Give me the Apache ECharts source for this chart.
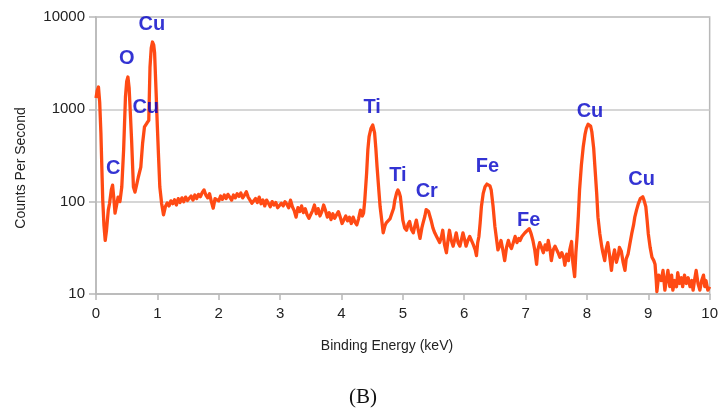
<!DOCTYPE html>
<html>
<head>
<meta charset="utf-8">
<script src="https://cdn.jsdelivr.net/npm/echarts@6/dist/echarts.min.js"></script>
<style>html,body{margin:0;padding:0;background:#fff}#c{width:721px;height:412px}</style>
</head>
<body>
<div id="c"></div>
<script>
// Energy (keV) and counts per second
const energy = [0,0.02,0.04,0.06,0.08,0.10,0.11,0.13,0.15,0.17,0.20,0.22,0.25,0.27,0.29,0.31,0.34,0.36,0.39,0.42,0.45,0.48,0.50,0.52,0.54,0.56,0.58,0.61,0.635,0.66,0.69,0.73,0.76,0.79,0.83,0.86,0.88,0.90,0.92,0.94,0.955,0.98,1.00,1.02,1.04,1.07,
1.10,1.13,1.16,1.19,1.22,1.25,1.28,1.31,1.34,1.37,1.40,1.43,1.46,1.49,1.52,1.55,1.58,1.61,1.64,1.67,1.70,1.73,1.76,1.79,1.82,1.85,1.88,1.91,1.94,1.97,
2.00,2.03,2.06,2.09,2.12,2.15,2.18,2.21,2.24,2.27,2.30,2.33,2.36,2.39,2.42,2.45,2.48,2.51,2.54,2.57,2.60,2.63,2.66,2.69,2.72,2.75,2.78,2.81,2.84,2.87,2.90,2.93,2.96,2.99,
3.02,3.05,3.08,3.11,3.14,3.17,3.20,3.23,3.26,3.29,3.32,3.35,3.38,3.41,3.44,3.47,3.50,3.53,3.56,3.59,3.62,3.65,3.68,3.71,3.74,3.77,3.80,3.83,3.86,3.89,3.92,3.95,3.98,
4.01,4.04,4.07,4.10,4.13,4.16,4.19,4.22,4.25,4.28,4.31,4.34,4.36,4.38,4.41,4.43,4.45,4.48,4.51,4.54,4.56,4.58,4.61,4.63,4.66,4.68,4.71,4.73,4.76,4.79,4.82,4.85,4.87,4.90,4.92,4.94,4.96,4.98,
5.00,5.03,5.06,5.09,5.11,5.14,5.17,5.20,5.22,5.25,5.28,5.31,5.33,5.36,5.38,5.40,5.42,5.44,5.46,5.49,5.52,5.55,5.58,5.60,5.63,5.65,5.68,5.71,5.74,5.76,5.79,5.82,5.85,5.87,5.90,5.93,5.96,5.98,
6.01,6.03,6.06,6.09,6.12,6.15,6.18,6.20,6.22,6.24,6.26,6.28,6.31,6.34,6.37,6.40,6.42,6.44,6.47,6.50,6.53,6.55,6.58,6.60,6.63,6.66,6.69,6.72,6.74,6.77,6.80,6.83,6.86,6.89,6.91,6.94,6.97,6.99,
7.02,7.06,7.09,7.12,7.15,7.18,7.20,7.23,7.26,7.29,7.32,7.35,7.37,7.40,7.42,7.45,7.48,7.50,7.53,7.56,7.59,7.62,7.64,7.67,7.70,7.72,7.75,7.77,7.80,7.82,7.84,7.86,7.88,7.91,7.94,7.97,7.99,
8.02,8.04,8.06,8.08,8.11,8.13,8.16,8.18,8.21,8.24,8.26,8.29,8.31,8.34,8.37,8.40,8.42,8.45,8.48,8.51,8.53,8.56,8.59,8.62,8.64,8.67,8.70,8.73,8.76,8.78,8.81,8.84,8.87,8.91,8.93,8.96,8.98,
9.00,9.03,9.06,9.09,9.11,9.13,9.14,9.17,9.21,9.24,9.27,9.30,9.32,9.35,9.38,9.40,9.43,9.46,9.48,9.51,9.54,9.56,9.59,9.62,9.65,9.68,9.71,9.73,9.76,9.78,9.81,9.84,9.87,9.90,9.92,9.94,9.97,10.00];
const counts = [1330,1600,1745,1200,555,180,104,55,38,48,81,95,135,151,110,75,95,112,100,144,363,1360,2000,2240,1700,900,465,144,127,150,185,237,432,645,711,760,2870,4600,5360,5000,4070,1500,645,300,144,95,
72,88,97,90,102,95,105,92,108,98,110,100,112,103,109,115,104,118,108,120,113,125,134,118,110,122,100,85,108,112,
102,115,106,118,108,120,112,104,118,110,122,114,124,110,118,128,112,104,96,92,108,98,112,95,104,90,104,96,88,100,92,98,86,85,
96,90,100,94,86,104,88,80,68,86,78,90,76,84,72,66,63,80,92,74,84,70,78,92,80,68,76,64,74,66,72,78,68,
58,56,70,62,68,58,68,60,56,66,81,70,75,104,204,363,506,620,676,555,380,240,130,88,60,46,55,59,62,65,68,85,104,125,134,126,113,85,
63,52,49,58,61,50,46,56,63,50,40,52,59,70,82,85,78,70,63,52,46,42,44,36,42,49,34,28,40,49,38,33,40,46,36,33,40,46,
38,33,38,42,42,34,30,26,36,42,59,88,123,145,155,158,148,134,90,54,38,30,34,38,30,23,32,38,34,31,36,42,36,40,38,42,40,46,
48,51,45,38,30,21,30,36,32,28,34,30,38,30,23,30,33,33,28,25,28,25,20.5,27,23,30,37,22,15.4,28,42,70,134,250,393,540,620,
690,706,660,572,380,240,120,68,45,33,28,23,30,36,26,18,24,30,22,26,32,29,22,18,24,27,35,45,56,68,82,96,108,113,104,88,64,
45,32,25,23,21,14,10.6,16,14,18,11,15,18,12,16,11,14,12,17,13,15,12,16,13,15,12,14,11,15,18,13,11,14,16,12,14,11,12];

// Peak annotations: energy, counts (label anchor), element
const peakX = [0.28,0.50,0.81,0.91,4.50,4.92,5.39,6.38,7.05,8.05,8.89];
const peakY = [226,3510,1060,8400,1035,190,130,243,62,959,176];
const peakNames = ['C','O','Cu','Cu','Ti','Ti','Cr','Fe','Fe','Cu','Cu'];

const yTicks = [10,100,1000,10000];

const lineData = energy.map((e,i)=>[e,counts[i]]);
const peakData = peakX.map((x,i)=>[x,peakY[i],peakNames[i]]);

const chart = echarts.init(document.getElementById('c'), null, {renderer:'canvas'});
const axisColor = '#b8b8b8';
chart.setOption({
  animation:false,
  backgroundColor:'#fff',
  grid:{left:96,right:11,top:17,bottom:118,show:true,borderColor:axisColor,borderWidth:1.5,backgroundColor:'transparent'},
  xAxis:{
    type:'value',min:0,max:10,interval:1,
    axisLine:{show:true,lineStyle:{color:axisColor,width:1.5}},
    axisTick:{show:true,length:6,lineStyle:{color:axisColor,width:1.5}},
    axisLabel:{color:'#222',fontSize:15,margin:12,fontFamily:'Liberation Sans, Arial, sans-serif'},
    splitLine:{show:false}
  },
  yAxis:{
    type:'log',logBase:10,min:yTicks[0],max:yTicks[yTicks.length-1],
    axisLine:{show:true,lineStyle:{color:axisColor,width:1.5}},
    axisTick:{show:true,length:7,lineStyle:{color:axisColor,width:1.5}},
    axisLabel:{color:'#222',fontSize:15,margin:11,fontFamily:'Liberation Sans, Arial, sans-serif',
      formatter:v=>String(Math.round(v))},
    splitLine:{show:true,lineStyle:{color:'#c8c8c8',width:1.5}},
    minorTick:{show:false}
  },
  graphic:[
    {type:'text',x:387,y:346,style:{text:'Binding Energy (keV)',fill:'#222',font:'14px "Liberation Sans", Arial, sans-serif',textAlign:'center',textVerticalAlign:'middle'}},
    {type:'text',rotation:Math.PI/2,x:21,y:168,style:{text:'Counts Per Second',fill:'#222',font:'14px "Liberation Sans", Arial, sans-serif',textAlign:'center',textVerticalAlign:'middle'}},
    {type:'text',x:363,y:397,style:{text:'(B)',fill:'#111',font:'21px "Liberation Serif", "Times New Roman", serif',textAlign:'center',textVerticalAlign:'middle'}}
  ],
  series:[
    {type:'line',data:lineData,showSymbol:false,symbol:'none',smooth:false,
     lineStyle:{color:'#ff4a14',width:3.3,join:'round'},z:2},
    {type:'scatter',data:peakData,symbolSize:1,itemStyle:{color:'rgba(0,0,0,0)'},z:3,
     label:{show:true,position:'inside',formatter:p=>p.data[2],color:'#0000c8',fontSize:20,fontWeight:'bold',fontFamily:'Liberation Sans, Arial, sans-serif'}}
  ]
});
</script>
</body>
</html>
